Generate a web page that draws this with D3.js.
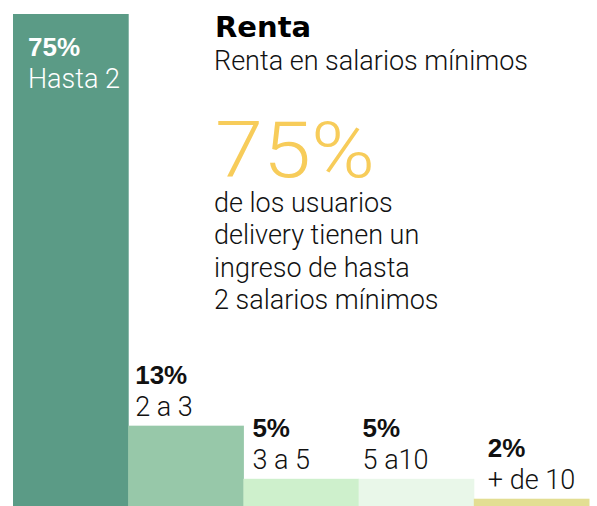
<!DOCTYPE html>
<html><head><meta charset="utf-8">
<script src="https://cdn.jsdelivr.net/npm/d3@7"></script>
<style>
html,body{margin:0;padding:0;background:#fff;overflow:hidden}
svg{display:block}
</style></head>
<body>
<svg id="c" width="597" height="506"></svg>
<script>
const categories = ["Hasta 2", "2 a 3", "3 a 5", "5 a10", "+ de 10"];
const values = [75, 13, 5, 5, 2];
const colors = ["#5b9b86", "#97c8a9", "#cef0cc", "#e9f7e9", "#e3de93"];
const title = "Renta";
const subtitle = "Renta en salarios mínimos";
const bigNumber = "75%";
const note = ["de los usuarios", "delivery tienen un", "ingreso de hasta", "2 salarios mínimos"];

// label horizontal offsets from each bar's left edge (layout only)
const labelDx = [15, 7, 9, 4, 14];

const svg = d3.select("#c");
const x = d3.scaleBand().domain(categories).range([13, 589]).padding(0);
const y = d3.scaleLinear().domain([0, 75]).range([512, 14]);
const light = "Roboto, 'Helvetica Neue', Arial, sans-serif";
const bold = "'Liberation Sans', Arial, sans-serif";

svg.selectAll("rect.bar").data(values).join("rect")
  .attr("class", "bar")
  .attr("x", (d, i) => x(categories[i]))
  .attr("width", x.bandwidth() + 0.5)
  .attr("y", d => y(d))
  .attr("height", d => y(0) - y(d))
  .attr("fill", (d, i) => colors[i]);

const g = svg.selectAll("g.lab").data(values).join("g").attr("class", "lab");
g.append("text")
  .attr("x", (d, i) => x(categories[i]) + labelDx[i])
  .attr("y", (d, i) => i === 0 ? y(d) + 42 : y(d) - 42)
  .attr("fill", (d, i) => i === 0 ? "#fff" : "#111")
  .attr("font-family", bold)
  .attr("font-weight", 700)
  .attr("font-size", 26)
  .text(d => d + "%");
g.append("text")
  .attr("x", (d, i) => x(categories[i]) + labelDx[i])
  .attr("y", (d, i) => i === 0 ? y(d) + 74 : y(d) - 10)
  .attr("fill", (d, i) => i === 0 ? "#fff" : "#111")
  .attr("font-family", light)
  .attr("font-weight", 300)
  .attr("font-size", 27)
  .text((d, i) => categories[i]);

svg.append("text").attr("x", 215).attr("y", 37)
  .attr("font-family", "'DejaVu Sans', sans-serif").attr("font-weight", 700)
  .attr("font-size", 29).attr("fill", "#000").text(title);
svg.append("text").attr("x", 214).attr("y", 70)
  .attr("font-family", light).attr("font-weight", 300)
  .attr("font-size", 27).attr("fill", "#111").text(subtitle);
svg.append("text").attr("x", 215).attr("y", 177)
  .attr("font-family", light).attr("font-weight", 300)
  .attr("font-size", 77).attr("fill", "#f7cc5a")
  .attr("textLength", 160).attr("lengthAdjust", "spacingAndGlyphs")
  .text(bigNumber);
svg.selectAll("text.note").data(note).join("text").attr("class", "note")
  .attr("x", 214).attr("y", (d, i) => 212 + i * 32.3)
  .attr("font-family", light).attr("font-weight", 300)
  .attr("font-size", 27).attr("fill", "#111").text(d => d);
</script>
</body></html>
